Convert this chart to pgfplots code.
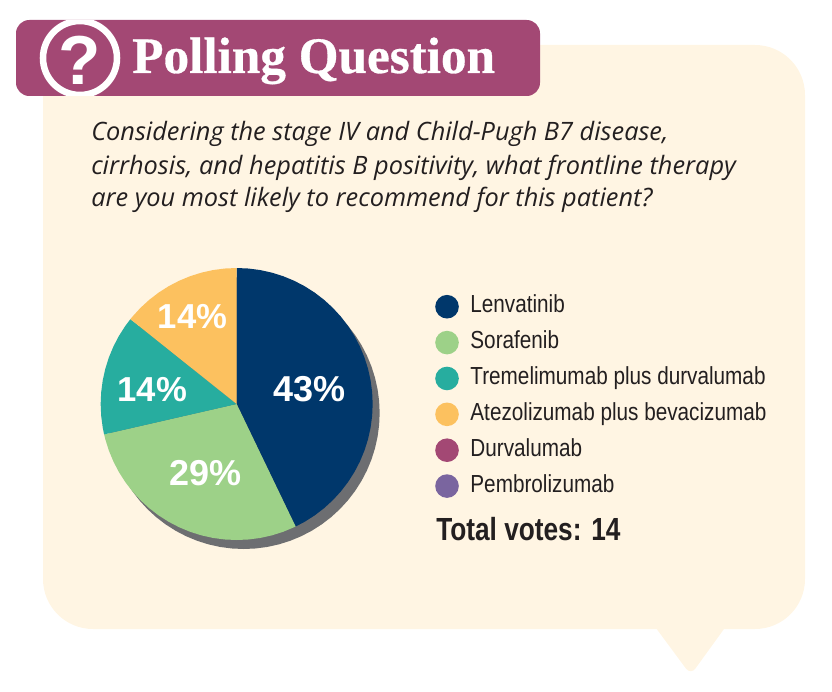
\documentclass[border=0pt]{standalone}
\usepackage{fontspec}
\usepackage{pgfplots}
\pgfplotsset{compat=1.18}
\usepgfplotslibrary{polar}
\setmainfont{Liberation Sans}
\newfontfamily\titlefont[FakeBold=0.6]{Liberation Serif}
\newfontfamily\questionfont{Open Sans}
\newfontfamily\narrowfont[FakeStretch=0.84]{Liberation Sans}
\newfontfamily\totalfont[FakeStretch=0.82]{Liberation Sans}
\definecolor{navy}{HTML}{00376B}
\definecolor{leaf}{HTML}{9DD188}
\definecolor{teal2}{HTML}{27AD9F}
\definecolor{sun}{HTML}{FCC15F}
\definecolor{plum}{HTML}{A34874}
\definecolor{violet2}{HTML}{7A659F}
\definecolor{shade}{HTML}{6D6E71}
\definecolor{cream}{HTML}{FFF5E3}
\definecolor{ink}{HTML}{231F20}
\pgfplotsset{pie axis/.style={
    scale only axis, width=204pt, height=204pt,
    xmin=0, xmax=360, ymin=0, ymax=1,
    hide axis, clip=false}}
\begin{document}
\begin{tikzpicture}
\useasboundingbox (0,0) rectangle (624pt,-519pt);
\begin{scope}[x=0.75pt,y=-0.75pt]
% speech bubble
\fill[cream,rounded corners=37.5pt] (43,300) -- (43,45) -- (805,45) -- (805,629)
  [sharp corners] -- (724,629)
  [rounded corners=6pt] -- (690.7,675) [sharp corners] -- (656.7,629)
  [rounded corners=37.5pt] -- (43,629) -- cycle;
% header
\fill[plum,rounded corners=10pt] (16,20) rectangle (540,96);
\begin{scope}
\clip[rounded corners=10pt] (16,20) rectangle (540,96);
\draw[white,line width=4.9pt] (80,58) circle (37);
\end{scope}
\node[white,font=\fontsize{52}{52}\selectfont\bfseries] at (80,60) {?};
\node[white,anchor=base west,inner sep=0pt,font=\titlefont\fontsize{38.4}{40}\selectfont\bfseries] at (132,73) {Polling Question};
% question
\node[ink,anchor=base west,inner sep=0pt,font=\questionfont\fontsize{19}{19}\selectfont\itshape] at (91,141) {Considering the stage IV and Child-Pugh B7 disease,};
\node[ink,anchor=base west,inner sep=0pt,font=\questionfont\fontsize{19}{19}\selectfont\itshape] at (91,174) {cirrhosis, and hepatitis B positivity, what frontline therapy};
\node[ink,anchor=base west,inner sep=0pt,font=\questionfont\fontsize{19}{19}\selectfont\itshape] at (91,206) {are you most likely to recommend for this patient?};
\node[ink,anchor=base west,inner sep=0pt,font=\totalfont\fontsize{24}{24}\selectfont\bfseries] at (436,540.7) {Total votes: 14};
\end{scope}

% drop shadow of the pie
\begin{polaraxis}[pie axis, at={(80.75pt,-411.75pt)}, anchor=south west]
\addplot[fill=shade,draw=none] coordinates {
(0,1)(5,1)(10,1)(15,1)(20,1)(25,1)(30,1)(35,1)(40,1)(45,1)(50,1)(55,1)
(60,1)(65,1)(70,1)(75,1)(80,1)(85,1)(90,1)(95,1)(100,1)(105,1)(110,1)(115,1)
(120,1)(125,1)(130,1)(135,1)(140,1)(145,1)(150,1)(155,1)(160,1)(165,1)(170,1)(175,1)
(180,1)(185,1)(190,1)(195,1)(200,1)(205,1)(210,1)(215,1)(220,1)(225,1)(230,1)(235,1)
(240,1)(245,1)(250,1)(255,1)(260,1)(265,1)(270,1)(275,1)(280,1)(285,1)(290,1)(295,1)
(300,1)(305,1)(310,1)(315,1)(320,1)(325,1)(330,1)(335,1)(340,1)(345,1)(350,1)(355,1)};
\end{polaraxis}

% votes: 6, 4, 2, 2, 0, 0 of 14
\begin{polaraxis}[pie axis, at={(75.5pt,-405pt)}, anchor=south west,
    legend style={at={(1.23,0.901)},anchor=north west,draw=none,fill=none,
      inner sep=0pt,outer sep=0pt,row sep=9.2pt,column sep=8.7pt,
      font=\narrowfont\fontsize{18.5}{18.5}\selectfont\color{ink},
      nodes={text height=13pt,text depth=4pt,inner sep=0pt,outer sep=0pt}},
    legend cell align=left,
    legend image code/.code={\fill[#1] (0pt,0pt) circle (8.85pt);}]
\addplot[fill=navy,draw=none] coordinates {(0,0)
(90,1)(85,1)(80,1)(75,1)(70,1)(65,1)(60,1)(55,1)(50,1)(45,1)(40,1)(35,1)(30,1)(25,1)(20,1)(15,1)(10,1)(5,1)(0,1)
(-5,1)(-10,1)(-15,1)(-20,1)(-25,1)(-30,1)(-35,1)(-40,1)(-45,1)(-50,1)(-55,1)(-60,1)(-64.3,1)};
\addlegendentry{Lenvatinib}
\addplot[fill=leaf,draw=none] coordinates {(0,0)
(192.9,1)(195,1)(200,1)(205,1)(210,1)(215,1)(220,1)(225,1)(230,1)(235,1)(240,1)(245,1)(250,1)(255,1)(260,1)(265,1)(270,1)
(275,1)(280,1)(285,1)(290,1)(295.7,1)};
\addlegendentry{Sorafenib}
\addplot[fill=teal2,draw=none] coordinates {(0,0)
(141.4,1)(145,1)(150,1)(155,1)(160,1)(165,1)(170,1)(175,1)(180,1)(185,1)(190,1)(192.9,1)};
\addlegendentry{Tremelimumab plus durvalumab}
\addplot[fill=sun,draw=none] coordinates {(0,0)
(90,1)(95,1)(100,1)(105,1)(110,1)(115,1)(120,1)(125,1)(130,1)(135,1)(140,1)(141.4,1)};
\addlegendentry{Atezolizumab plus bevacizumab}
\addplot[fill=plum,draw=none] coordinates {(0,0)};
\addlegendentry{Durvalumab}
\addplot[fill=violet2,draw=none] coordinates {(0,0)};
\addlegendentry{Pembrolizumab}
\node[white,font=\fontsize{27}{27}\selectfont\bfseries] at (axis cs:11.7,0.545) {43\%};
\node[white,font=\fontsize{27}{27}\selectfont\bfseries] at (axis cs:245.6,0.56) {29\%};
\node[white,font=\fontsize{26}{26}\selectfont\bfseries] at (axis cs:170,0.63) {14\%};
\node[white,font=\fontsize{26}{26}\selectfont\bfseries] at (axis cs:116.7,0.72) {14\%};
\end{polaraxis}
\end{tikzpicture}
\end{document}
